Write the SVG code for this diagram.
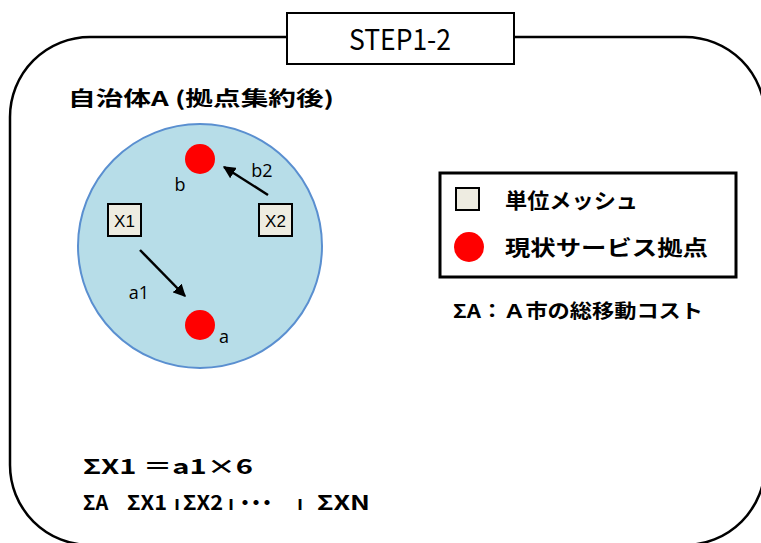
<svg xmlns="http://www.w3.org/2000/svg" width="761" height="543" viewBox="0 0 761 543">
<style>
.jp{font-family:"Noto Sans CJK JP","Liberation Sans",sans-serif;font-weight:bold;fill:#000}
.lt{font-family:"Open Sans","Liberation Sans",sans-serif;fill:#000}
.mk{font-family:"Liberation Sans",sans-serif;fill:#000}
.mesh{fill:#eeece1;stroke:#000;stroke-width:2}
.dot{fill:#ff0000}
.arr{stroke:#000;stroke-width:2.5;fill:none;marker-end:url(#ah)}
</style>
<defs>
<marker id="ah" viewBox="0 0 10 10" refX="9" refY="5" markerWidth="5" markerHeight="5" orient="auto" markerUnits="strokeWidth">
<path d="M0,0 L10,5 L0,10 z" fill="#000"/>
</marker>
</defs>
<rect width="761" height="543" fill="#fff"/>
<g id="frame">
<rect x="10" y="37" width="755" height="508" rx="80" ry="80" fill="#fff" stroke="#000" stroke-width="2.5"/>
</g>
<g id="step">
<rect x="287" y="13" width="227" height="51" fill="#fff" stroke="#000" stroke-width="2"/>
<text x="400" y="50" text-anchor="middle" font-family="'Noto Sans CJK JP','DejaVu Sans',sans-serif" font-size="29" textLength="102" lengthAdjust="spacingAndGlyphs">STEP1-2</text>
</g>
<text class="jp" x="68" y="106" font-size="20" textLength="266" lengthAdjust="spacingAndGlyphs">自治体A (拠点集約後)</text>
<g id="city">
<circle cx="200" cy="246" r="122" fill="#b7dde8" stroke="#5a8fd0" stroke-width="2"/>
</g>
<g id="b">
<circle class="dot" cx="200" cy="159" r="15"/>
<text class="lt" x="180" y="191" font-size="18" text-anchor="middle">b</text>
</g>
<g id="a">
<circle class="dot" cx="200" cy="325" r="15"/>
<text class="lt" x="224" y="343" font-size="18" text-anchor="middle">a</text>
</g>
<g id="X1">
<rect class="mesh" x="108" y="204" width="33" height="32"/>
<text class="mk" x="124.5" y="226.5" font-size="17" text-anchor="middle">X1</text>
</g>
<g id="X2">
<rect class="mesh" x="259" y="204" width="33" height="32"/>
<text class="mk" x="275.5" y="226.5" font-size="17" text-anchor="middle">X2</text>
</g>
<g id="connectors">
<line class="arr" x1="140" y1="250" x2="185" y2="296"/>
<line class="arr" x1="268" y1="195" x2="224" y2="167"/>
<text class="lt" x="139" y="299" font-size="18" text-anchor="middle">a1</text>
<text class="lt" x="262" y="177" font-size="18" text-anchor="middle">b2</text>
</g>
<g id="legend">
<rect x="440" y="173" width="296" height="104" fill="#fff" stroke="#000" stroke-width="3"/>
<rect class="mesh" x="456" y="188" width="23" height="22" stroke-width="2.5"/>
<circle class="dot" cx="469" cy="247" r="15"/>
<text class="jp" x="505" y="208" font-size="21" textLength="133" lengthAdjust="spacingAndGlyphs">単位メッシュ</text>
<text class="jp" x="505" y="255" font-size="21" textLength="203" lengthAdjust="spacingAndGlyphs">現状サービス拠点</text>
</g>
<text class="jp" x="453" y="318" font-size="19" textLength="250" lengthAdjust="spacingAndGlyphs">ΣA：Ａ市の総移動コスト</text>
<g id="formula">
<text class="jp" x="83" y="474" font-size="20" textLength="170" lengthAdjust="spacingAndGlyphs">ΣX1 ＝a1×6</text>
<text class="jp" x="83" y="510" font-size="20">ΣA</text>
<text class="jp" x="127" y="510" font-size="20" textLength="40" lengthAdjust="spacingAndGlyphs">ΣX1</text>
<text class="jp" x="177" y="510" font-size="20" text-anchor="middle">ı</text>
<text class="jp" x="183" y="510" font-size="20" textLength="40" lengthAdjust="spacingAndGlyphs">ΣX2</text>
<text class="jp" x="231" y="510" font-size="20" text-anchor="middle">ı</text>
<text class="jp" x="235" y="510" font-size="20" letter-spacing="-9">・・・</text>
<text class="jp" x="300" y="510" font-size="20" text-anchor="middle">ı</text>
<text class="jp" x="317" y="510" font-size="20" textLength="53" lengthAdjust="spacingAndGlyphs">ΣXN</text>
</g>
</svg>
